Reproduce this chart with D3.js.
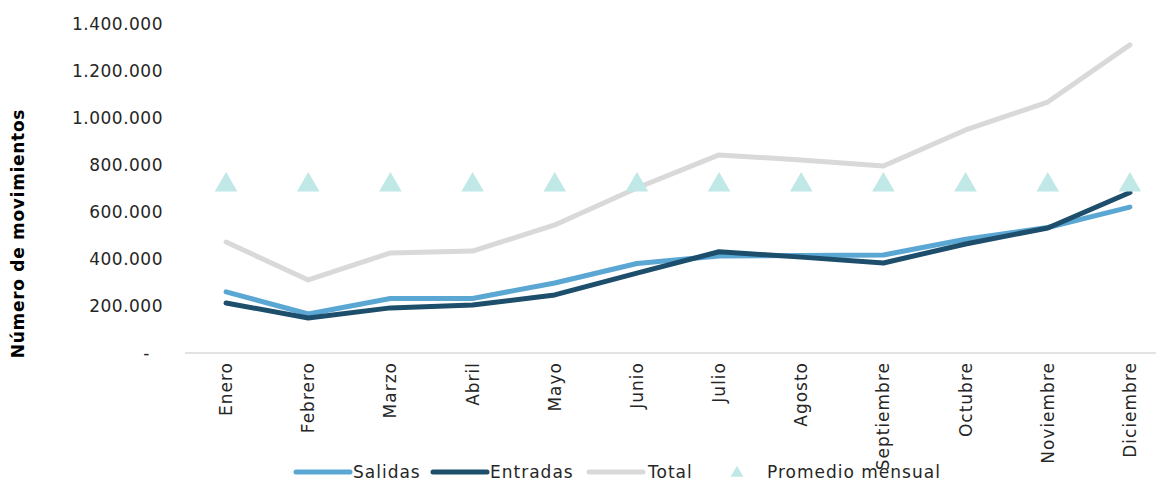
<!DOCTYPE html>
<html>
<head>
<meta charset="utf-8">
<script src="https://cdn.jsdelivr.net/npm/d3@7"></script>
<style>
  body { margin: 0; background: #fff; }
  text { font-family: "DejaVu Sans", sans-serif; fill: #262626; }
</style>
</head>
<body>
<div id="chart"></div>
<script>
// datos
const meses = ["Enero", "Febrero", "Marzo", "Abril", "Mayo", "Junio", "Julio",
    "Agosto", "Septiembre", "Octubre", "Noviembre", "Diciembre"];
const salidas = [260000, 166000, 232000, 232000, 298000, 381000, 413000, 415000, 417000, 484000, 534000, 621000];
const entradas = [213000, 149000, 192000, 204000, 247000, 340000, 431000, 408000, 383000, 464000, 532000, 683000];
const total = [472000, 311000, 426000, 434000, 545000, 702000, 843000, 821000, 796000, 949000, 1068000, 1311000];
const promedio = [723500, 723500, 723500, 723500, 723500, 723500, 723500, 723500, 723500, 723500, 723500, 723500];
const yTicks = [0, 200000, 400000, 600000, 800000, 1000000, 1200000, 1400000];

const width = 1156, height = 481;
const plotLeft = 185, plotRight = 1171, plotTop = 24, plotBottom = 353;

const svg = d3.select("#chart").append("svg")
    .attr("width", width)
    .attr("height", height);

const x = d3.scalePoint().domain(meses).range([plotLeft, plotRight]).padding(0.5);
const y = d3.scaleLinear().domain([0, 1400000]).range([plotBottom, plotTop]);

const es = d3.formatLocale({decimal: ",", thousands: ".", grouping: [3], currency: ["", ""]});
const fmt = es.format(",");

// eje y
const yAxis = svg.append("g")
    .attr("transform", `translate(${plotLeft - 22},0)`)
    .call(d3.axisLeft(y).tickValues(yTicks).tickSize(0).tickPadding(0)
        .tickFormat(d => d === 0 ? "-" : fmt(d)));
yAxis.select(".domain").remove();
yAxis.selectAll("text")
    .style("font-size", "17px")
    .style("letter-spacing", "0.5px")
    .attr("dy", "0.35em")
    .attr("dx", d => d === 0 ? -13 : 0);

svg.append("text")
    .attr("transform", `translate(24,${(plotTop + plotBottom) / 2 + 45}) rotate(-90)`)
    .attr("text-anchor", "middle")
    .style("font-size", "17px")
    .style("letter-spacing", "0.7px")
    .style("font-weight", "bold")
    .style("fill", "#000")
    .text("Número de movimientos");

// linea base
svg.append("line")
    .attr("x1", plotLeft).attr("x2", plotRight)
    .attr("y1", y(0)).attr("y2", y(0))
    .attr("stroke", "#d9d9d9")
    .attr("stroke-width", 1.5);

// etiquetas del eje x
svg.append("g").selectAll("text")
    .data(meses)
    .enter().append("text")
    .attr("transform", d => `translate(${x(d) + 6},${plotBottom + 9}) rotate(-90)`)
    .attr("text-anchor", "end")
    .style("font-size", "17px")
    .style("letter-spacing", "1px")
    .text(d => d);

// series
const series = [
    {name: "Total", values: total, color: "#d9d9d9"},
    {name: "Salidas", values: salidas, color: "#5ba7d3"},
    {name: "Entradas", values: entradas, color: "#1d4e6b"}
];

const line = d3.line()
    .x((d, i) => x(meses[i]))
    .y(d => y(d));

svg.append("g").selectAll("path")
    .data(series)
    .enter().append("path")
    .attr("d", d => line(d.values))
    .attr("fill", "none")
    .attr("stroke", d => d.color)
    .attr("stroke-width", 5)
    .attr("stroke-linecap", "round")
    .attr("stroke-linejoin", "round");

// promedio mensual
svg.append("g").selectAll("path")
    .data(promedio)
    .enter().append("path")
    .attr("d", d3.symbol().type(d3.symbolTriangle).size(220))
    .attr("transform", (d, i) => `translate(${x(meses[i])},${y(d) + 2})`)
    .attr("fill", "#bfe8e6");

// leyenda
const legendY = 472;
const legendItems = [
    {name: "Salidas", color: "#5ba7d3", x: 296, tx: 353},
    {name: "Entradas", color: "#1d4e6b", x: 433, tx: 490},
    {name: "Total", color: "#d9d9d9", x: 589, tx: 648}
];
const lg = svg.append("g");
legendItems.forEach(it => {
    lg.append("line")
        .attr("x1", it.x).attr("x2", it.x + 54)
        .attr("y1", legendY).attr("y2", legendY)
        .attr("stroke", it.color)
        .attr("stroke-width", 5)
        .attr("stroke-linecap", "round");
    lg.append("text")
        .attr("x", it.tx).attr("y", legendY)
        .attr("dy", "0.35em")
        .style("font-size", "17px")
        .style("letter-spacing", "1px")
        .text(it.name);
});
lg.append("path")
    .attr("d", d3.symbol().type(d3.symbolTriangle).size(70))
    .attr("transform", `translate(737,${legendY + 1})`)
    .attr("fill", "#bfe8e6");
lg.append("text")
    .attr("x", 767).attr("y", legendY)
    .attr("dy", "0.35em")
    .style("font-size", "17px")
    .style("letter-spacing", "1px")
    .text("Promedio mensual");
</script>
</body>
</html>
